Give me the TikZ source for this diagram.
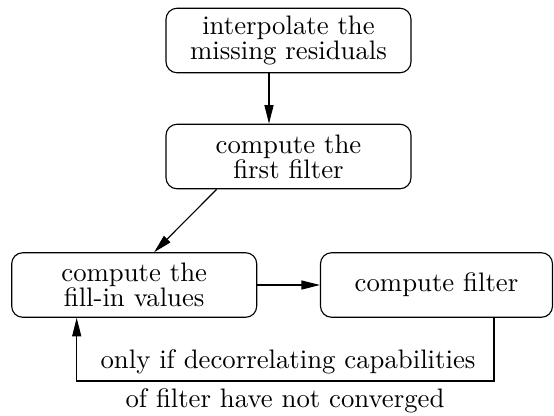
\documentclass[tikz,border=0pt]{standalone}
\usetikzlibrary{arrows.meta,calc}
\begin{document}
\begin{tikzpicture}[
    x=0.4pt, y=-0.4pt,
    line width=0.45pt,
    stepbox/.style={draw, rectangle, rounded corners=4.4pt, inner sep=0pt,
      minimum height=25.8pt, align=center,
      font=\fontsize{10.7}{9.9}\selectfont},
    widebox/.style={stepbox, minimum width=98pt},
    flow/.style={-{Triangle[length=7.4pt,width=3.6pt]}},
    note/.style={anchor=base, inner sep=0pt, font=\fontsize{10.7}{12}\selectfont}
  ]
  \useasboundingbox (0,0) rectangle (554,415);

  % process boxes
  \node[widebox] (interp) at (288.5,40.5) {interpolate the\\missing residuals};
  \node[widebox] (first)  at (288.5,156.5) {compute the\\first filter};
  \node[widebox] (fillin) at (134.2,285) {compute the\\fill-in values};
  \node[stepbox, minimum width=92.8pt] (filter) at (436.5,285) {compute filter};

  % forward flow
  \draw[flow] ($(interp.south)+(-19.5,0)$) -- ($(first.north)+(-19.5,0)$);
  \draw[flow] ($(first.south west)!0.208!(first.south east)$)
           -- ($(fillin.north west)!0.581!(fillin.north east)$);
  \draw[flow] (fillin.east) -- (filter.west);

  % feedback loop
  \coordinate (loopout) at ($(filter.south)+(57.5,0)$);
  \coordinate (loopin)  at ($(fillin.south)+(-57.5,0)$);
  \coordinate (loopy)   at (0,381);
  \draw[flow] (loopout) -- (loopout |- loopy) -- (loopin |- loopy) -- (loopin);

  \node[note] (cond1) at (288,368.5) {only if decorrelating capabilities};
  \node[note] (cond2) at (285,407) {of filter have not converged};
\end{tikzpicture}
\end{document}
